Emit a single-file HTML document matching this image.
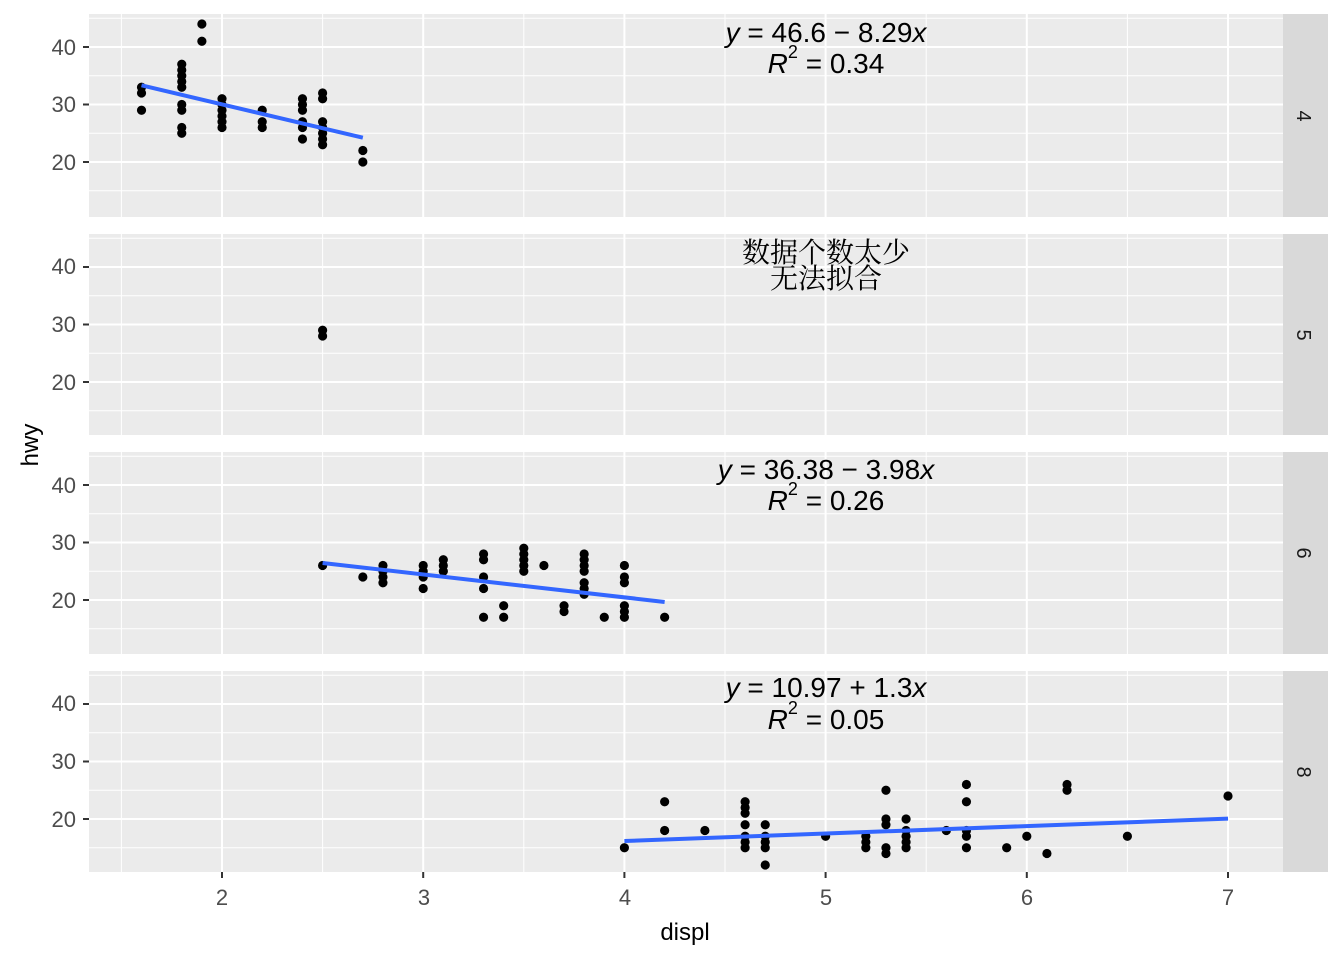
<!DOCTYPE html>
<html><head><meta charset="utf-8"><style>body{margin:0;background:#fff}</style></head>
<body>
<svg id="s" width="1344" height="960" xmlns="http://www.w3.org/2000/svg" font-family="Liberation Sans, sans-serif">
<rect width="1344" height="960" fill="#fff"/>
<g id="panels"></g>
<g font-size="22" fill="#4d4d4d" text-anchor="middle">
<text x="222" y="905">2</text><text x="424" y="905">3</text><text x="625" y="905">4</text><text x="826" y="905">5</text><text x="1027" y="905">6</text><text x="1228" y="905">7</text>
</g>
<g font-size="22" fill="#4d4d4d" text-anchor="end" id="ylab">
<text x="76" y="55">40</text><text x="76" y="112">30</text><text x="76" y="170">20</text>
<text x="76" y="274">40</text><text x="76" y="332">30</text><text x="76" y="390">20</text>
<text x="76" y="493">40</text><text x="76" y="550">30</text><text x="76" y="608">20</text>
<text x="76" y="711">40</text><text x="76" y="769">30</text><text x="76" y="827">20</text>
</g>
<text x="685" y="940" font-size="24" text-anchor="middle">displ</text>
<text transform="translate(38,445) rotate(-90)" font-size="24" text-anchor="middle">hwy</text>
<g font-size="20" fill="#1a1a1a">
<text transform="translate(1297,116) rotate(90)" text-anchor="middle">4</text>
<text transform="translate(1297,335) rotate(90)" text-anchor="middle">5</text>
<text transform="translate(1297,553) rotate(90)" text-anchor="middle">6</text>
<text transform="translate(1297,772) rotate(90)" text-anchor="middle">8</text>
</g>
<g font-size="28" text-anchor="middle">
<text x="826" y="42"><tspan font-style="italic">y</tspan> = 46.6 − 8.29<tspan font-style="italic">x</tspan></text>
<text x="826" y="73"><tspan font-style="italic">R</tspan><tspan font-size="18" dy="-15">2</tspan><tspan dy="15"> = 0.34</tspan></text>
<text x="826" y="479"><tspan font-style="italic">y</tspan> = 36.38 − 3.98<tspan font-style="italic">x</tspan></text>
<text x="826" y="510"><tspan font-style="italic">R</tspan><tspan font-size="18" dy="-15">2</tspan><tspan dy="15"> = 0.26</tspan></text>
<text x="826" y="697"><tspan font-style="italic">y</tspan> = 10.97 + 1.3<tspan font-style="italic">x</tspan></text>
<text x="826" y="729"><tspan font-style="italic">R</tspan><tspan font-size="18" dy="-15">2</tspan><tspan dy="15"> = 0.05</tspan></text>
</g>
<g font-size="28" text-anchor="middle" font-family="Liberation Serif, Noto Serif CJK SC, serif">
<text x="826" y="262">数据个数太少</text>
<text x="826" y="288">无法拟合</text>
</g>
</svg>
<script>
var NS="http://www.w3.org/2000/svg",g=document.getElementById('panels');
function el(t,a){var e=document.createElementNS(NS,t);for(var k in a)e.setAttribute(k,a[k]);g.appendChild(e);return e;}
var tops=[14,234,452,671],bots=[217,435,654,872];
function X(v){return 222+(v-2)*201.2;}
var data=[
[[1.6,33],[1.6,32],[1.6,29],[1.8,37],[1.8,36],[1.8,35],[1.8,34],[1.8,33],[1.8,30],[1.8,29],[1.8,26],[1.8,25],[1.9,44],[1.9,41],[2,31],[2,30],[2,29],[2,28],[2,27],[2,26],[2.2,29],[2.2,27],[2.2,26],[2.4,31],[2.4,30],[2.4,29],[2.4,27],[2.4,26],[2.4,24],[2.5,32],[2.5,31],[2.5,27],[2.5,26],[2.5,25],[2.5,24],[2.5,23],[2.7,22],[2.7,20]],
[[2.5,29],[2.5,28]],
[[2.5,26],[2.7,24],[2.8,26],[2.8,25],[2.8,24],[2.8,23],[3,26],[3,25],[3,24],[3,22],[3.1,27],[3.1,26],[3.1,25],[3.3,28],[3.3,27],[3.3,24],[3.3,22],[3.3,17],[3.4,19],[3.4,17],[3.5,29],[3.5,28],[3.5,27],[3.5,26],[3.5,25],[3.6,26],[3.7,19],[3.7,18],[3.8,28],[3.8,27],[3.8,26],[3.8,25],[3.8,23],[3.8,22],[3.8,21],[3.9,17],[4,26],[4,24],[4,23],[4,19],[4,18],[4,17],[4.2,17]],
[[4,15],[4.2,23],[4.2,18],[4.4,18],[4.6,23],[4.6,22],[4.6,21],[4.6,19],[4.6,17],[4.6,16],[4.6,15],[4.7,19],[4.7,17],[4.7,16],[4.7,15],[4.7,12],[5,17],[5.2,17],[5.2,16],[5.2,15],[5.3,25],[5.3,20],[5.3,19],[5.3,15],[5.3,14],[5.4,20],[5.4,18],[5.4,17],[5.4,16],[5.4,15],[5.6,18],[5.7,26],[5.7,23],[5.7,18],[5.7,17],[5.7,15],[5.9,15],[6,17],[6.1,14],[6.2,26],[6.2,25],[6.5,17],[7,24]]];
var lines=[[1.6,33.34,2.7,24.22],null,[2.5,26.43,4.2,19.66],[4,16.17,7,20.07]];
for(var p=0;p<4;p++){
 var T=tops[p],B=bots[p];
 function Y(v){return T+33+(40-v)*5.75;}
 el('rect',{x:89,y:T,width:1194,height:B-T,fill:'#ebebeb'});
 el('rect',{x:1283,y:T,width:45,height:B-T,fill:'#d9d9d9'});
 [15,25,35,45].forEach(function(v){var y=Y(v);if(y>T&&y<B)el('line',{x1:89,x2:1283,y1:y,y2:y,stroke:'#fff','stroke-width':1});});
 [1.5,2.5,3.5,4.5,5.5,6.5].forEach(function(v){el('line',{x1:X(v),x2:X(v),y1:T,y2:B,stroke:'#fff','stroke-width':1});});
 [20,30,40].forEach(function(v){el('line',{x1:89,x2:1283,y1:Y(v),y2:Y(v),stroke:'#fff','stroke-width':2});el('line',{x1:83,x2:89,y1:Y(v),y2:Y(v),stroke:'#333','stroke-width':2});});
 [2,3,4,5,6,7].forEach(function(v){el('line',{x1:X(v),x2:X(v),y1:T,y2:B,stroke:'#fff','stroke-width':2});});
 data[p].forEach(function(d){el('circle',{cx:X(d[0]),cy:Y(d[1]),r:4.6,fill:'#000'});});
 var l=lines[p];if(l)el('line',{x1:X(l[0]),y1:Y(l[1]),x2:X(l[2]),y2:Y(l[3]),stroke:'#3366ff','stroke-width':4});
}
[2,3,4,5,6,7].forEach(function(v){el('line',{x1:X(v),x2:X(v),y1:872,y2:878,stroke:'#333','stroke-width':2});});
</script>
</body></html>
